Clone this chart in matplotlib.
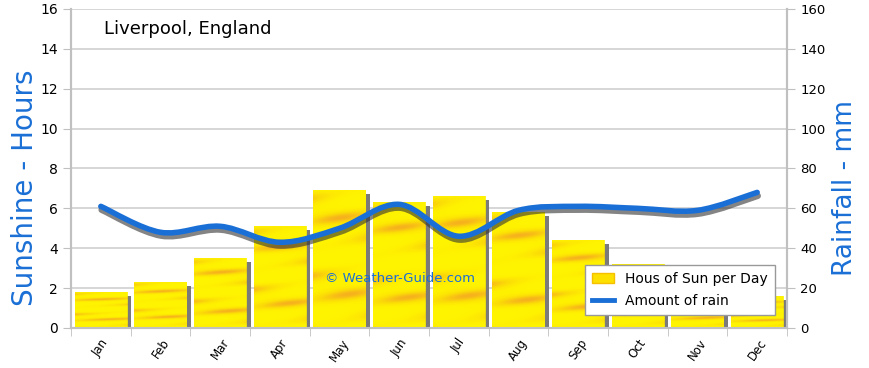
import numpy as np
import matplotlib
matplotlib.use('Agg')
import matplotlib.pyplot as plt
from matplotlib.path import Path
from matplotlib.patches import PathPatch, Patch
from matplotlib.lines import Line2D
import matplotlib.patheffects as pe

months = ['Jan', 'Feb', 'Mar', 'Apr', 'May', 'Jun', 'Jul', 'Aug', 'Sep', 'Oct', 'Nov', 'Dec']
sun_hours = [1.8, 2.3, 3.5, 5.1, 6.9, 6.3, 6.6, 5.8, 4.4, 3.2, 2.1, 1.6]
rain_mm = [61, 48, 51, 43, 50, 62, 46, 59, 61, 60, 59, 68]

blue = '#1a6fd6'

fig = plt.figure(figsize=(8.7, 3.68), dpi=100)
ax = fig.add_axes([0.0816, 0.1087, 0.823, 0.867])
ax2 = ax.twinx()

x = np.arange(len(months))
w = 0.88

# bar texture: yellow with soft orange streaks
yy, xx = np.mgrid[0:200, 0:60]
tex = 0.5 + 0.25 * np.sin(yy / 6.0 + xx / 25.0) + 0.25 * np.sin(yy / 17.0 - xx / 40.0)
tex = np.clip(tex, 0, 1) ** 4
cmap = matplotlib.colors.LinearSegmentedColormap.from_list('sun', ['#fff500', '#fbd60a', '#f5a623'])

for xi, h in zip(x, sun_hours):
    # shadow
    ax.bar(xi + 0.07, h - 0.2, width=w, color='#7a7a7a', zorder=2)
    b = ax.bar(xi, h, width=w, color='#fff200', zorder=3)[0]
    im = ax.imshow(tex, cmap=cmap, extent=(xi - w / 2, xi + w / 2, 0, h),
                   aspect='auto', zorder=3.5, alpha=0.85)
    im.set_clip_path(b)

ax.set_xlim(-0.5, 11.5)
ax.set_ylim(0, 16)
ax.set_yticks(range(0, 17, 2))
ax.grid(axis='y', color='#d0d0d0', lw=1.2, zorder=0)
ax.set_axisbelow(True)
ax.set_xticks(x)
ax.set_xticklabels(months, rotation=55, fontsize=8.5)
ax.set_xticks(np.arange(-0.5, 12, 1), minor=True)
ax.tick_params(axis='x', which='major', length=0, pad=6)
ax.tick_params(axis='x', which='minor', length=6, color='#c0c0c0')
ax.tick_params(axis='y', length=6, color='#c0c0c0', labelsize=10)
for a in (ax, ax2):
    a.spines['top'].set_visible(False)
    for s in ['left', 'right', 'bottom']:
        a.spines[s].set_color('#c0c0c0')
        a.spines[s].set_linewidth(1.5)

ax.set_ylabel('Sunshine - Hours', color=blue, fontsize=20)
ax.yaxis.set_label_coords(-0.045, 0.44)

ax2.set_ylim(0, 160)
ax2.set_yticks(range(0, 161, 20))
ax2.tick_params(axis='y', length=6, color='#c0c0c0', labelsize=9.5)
ax2.set_ylabel('Rainfall - mm', color=blue, fontsize=19)
ax2.yaxis.set_label_coords(1.063, 0.44)

# smooth rain curve (Catmull-Rom as Bezier path)
px = np.array(x, dtype=float)
py = np.array(rain_mm, dtype=float)
verts = [(px[0], py[0])]
codes = [Path.MOVETO]
n = len(px)
for i in range(n - 1):
    p0 = (px[max(i - 1, 0)], py[max(i - 1, 0)])
    p1 = (px[i], py[i])
    p2 = (px[i + 1], py[i + 1])
    p3 = (px[min(i + 2, n - 1)], py[min(i + 2, n - 1)])
    c1 = (p1[0] + (p2[0] - p0[0]) / 6, p1[1] + (p2[1] - p0[1]) / 6)
    c2 = (p2[0] - (p3[0] - p1[0]) / 6, p2[1] - (p3[1] - p1[1]) / 6)
    verts += [c1, c2, p2]
    codes += [Path.CURVE4] * 3
patch = PathPatch(Path(verts, codes), facecolor='none', edgecolor=blue, lw=4,
                  capstyle='round', zorder=5,
                  path_effects=[pe.SimpleLineShadow(offset=(0.5, -2.5), shadow_color='#333333', alpha=0.6, linewidth=4.5),
                                pe.Normal()])
ax2.add_patch(patch)

ax.text(0.05, 15.0, 'Liverpool, England', fontsize=13, va='center', ha='left', zorder=6)
ax.text(3.75, 2.5, '\u00a9 Weather-Guide.com', color=blue, fontsize=9.5, va='center', zorder=6)

handles = [Patch(facecolor='#fde000', edgecolor='#f5c000'),
           Line2D([0], [0], color=blue, lw=3.5)]
leg = ax2.legend(handles, ['Hous of Sun per Day', 'Amount of rain'], loc='lower right',
                 bbox_to_anchor=(0.983, 0.041), borderaxespad=0, fontsize=10, fancybox=False,
                 framealpha=1, edgecolor='#999999', handlelength=1.6, borderpad=0.5,
                 labelspacing=0.6)
leg.set_zorder(10)

fig.savefig('out.png', dpi=100)
